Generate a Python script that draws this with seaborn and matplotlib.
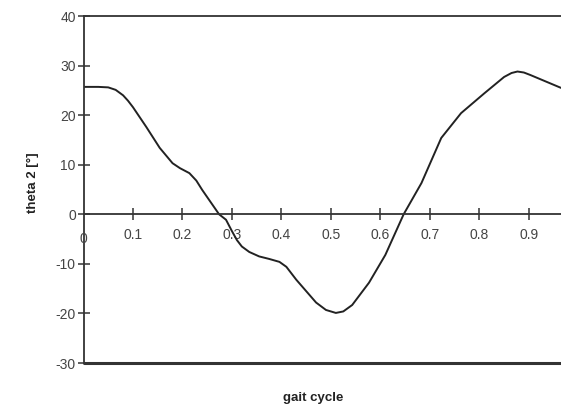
import matplotlib
matplotlib.use("Agg")
import matplotlib.pyplot as plt
import seaborn as sns
import pandas as pd

# Knee angle over one gait cycle
gait = [0.0, 0.03, 0.05, 0.065, 0.08, 0.09, 0.10, 0.127, 0.154, 0.18, 0.195,
        0.214, 0.228, 0.24, 0.274, 0.288, 0.30, 0.31, 0.32, 0.335, 0.355,
        0.375, 0.396, 0.41, 0.43, 0.47, 0.49, 0.51, 0.525, 0.543, 0.577, 0.61,
        0.647, 0.683, 0.723, 0.763, 0.81, 0.85, 0.865, 0.877, 0.89, 0.903,
        0.965]
theta2 = [25.7, 25.7, 25.6, 25.1, 24.0, 22.9, 21.6, 17.6, 13.4, 10.3, 9.3,
          8.3, 6.8, 4.9, 0.0, -1.1, -3.4, -5.2, -6.5, -7.6, -8.5,
          -9.0, -9.6, -10.6, -13.2, -17.8, -19.3, -19.9, -19.6, -18.3, -13.8,
          -8.2, 0.0, 6.3, 15.4, 20.4, 24.4, 27.7, 28.5, 28.8, 28.6, 28.1, 25.5]
x_ticks = [0.1, 0.2, 0.3, 0.4, 0.5, 0.6, 0.7, 0.8, 0.9]
y_ticks = [-30, -20, -10, 0, 10, 20, 30, 40]

df = pd.DataFrame({"gait cycle": gait, "theta 2": theta2})

sns.set_style("white")
plt.rcParams["font.family"] = ["Liberation Sans", "DejaVu Sans"]
plt.rcParams["axes.unicode_minus"] = False

fig = plt.figure(figsize=(5.61, 4.11), dpi=100)
ax = fig.add_axes([83.5 / 561, 48 / 411, 1 - 83.5 / 561, 347 / 411])

sns.lineplot(data=df, x="gait cycle", y="theta 2", ax=ax, color="#222222",
             linewidth=1.4, sort=False, solid_joinstyle="round",
             solid_capstyle="round")

ax.set_xlim(0, 0.965)
ax.set_ylim(-30, 40)

# x axis crosses at zero; frame lines at the top and bottom
ax.spines["bottom"].set_position(("data", 0))
ax.spines["right"].set_visible(False)
for s in ["bottom", "top", "left"]:
    ax.spines[s].set_color("#333333")
    ax.spines[s].set_linewidth(1.3)
ax.axhline(-30, color="#333333", linewidth=2.2, clip_on=False)

ax.set_xticks(x_ticks)
ax.set_xticklabels([f"{v:g}" for v in x_ticks])
ax.set_yticks(y_ticks)
ax.tick_params(axis="x", bottom=True, direction="inout", length=8, width=1.1,
               color="#333333", labelsize=10, labelcolor="#444444", pad=6)
ax.tick_params(axis="y", left=True, direction="inout", length=9, width=1.1,
               color="#333333", labelsize=10, labelcolor="#444444", pad=1)
ax.text(0, -3.6, "0", ha="center", va="top", fontsize=10, color="#444444")

ax.set_xlabel("gait cycle", fontsize=9.5, fontweight="bold", color="#222222")
ax.set_ylabel("theta 2 [°]", fontsize=9.5, fontweight="bold", color="#222222")
ax.xaxis.set_label_coords((313 - 83.5) / 477.5, -(398 - 363) / 347)
ax.yaxis.set_label_coords(-(83.5 - 33) / 477.5, (363 - 183) / 347)
ax.xaxis.label.set_va("center")
ax.yaxis.label.set_va("center")

fig.savefig("out.png", dpi=100)
